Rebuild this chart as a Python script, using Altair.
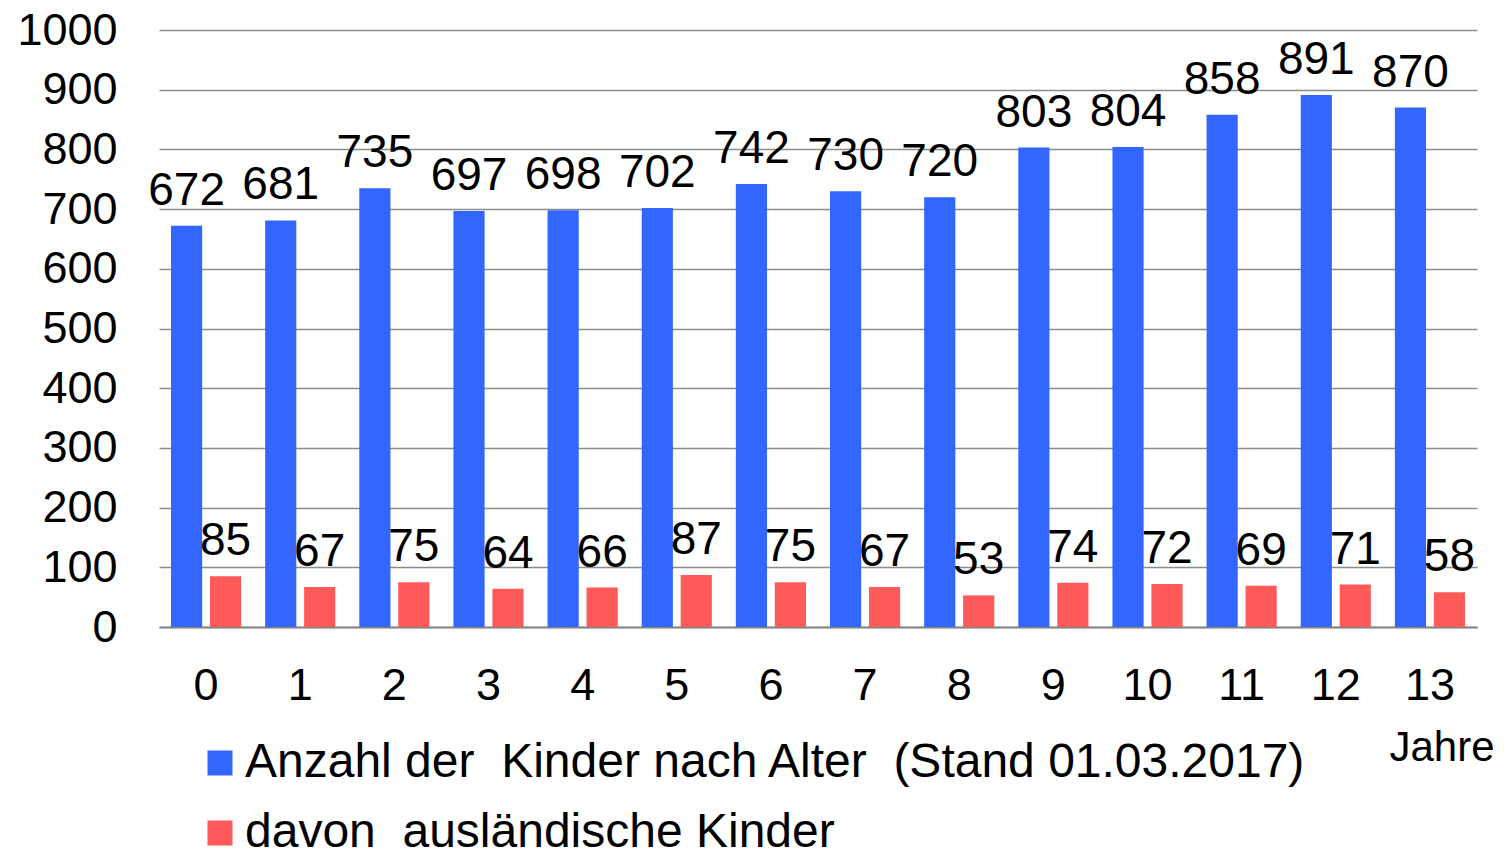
import altair as alt
import pandas as pd

ages = [str(i) for i in range(14)]
total = [672, 681, 735, 697, 698, 702, 742, 730, 720, 803, 804, 858, 891, 870]
foreign = [85, 67, 75, 64, 66, 87, 75, 67, 53, 74, 72, 69, 71, 58]
series = ["Anzahl der\u00a0 Kinder nach Alter\u00a0 (Stand 01.03.2017)",
          "davon\u00a0 ausländische Kinder"]
colors = ["#3366FF", "#FF5A5A"]
y_ticks = list(range(0, 1001, 100))
unit_label = ["Jahre"]

rows = []
for a, t, f in zip(ages, total, foreign):
    rows.append({"Alter": a, "Serie": series[0], "Wert": t})
    rows.append({"Alter": a, "Serie": series[1], "Wert": f})
df = pd.DataFrame(rows)

FONT = "Liberation Sans"

x = alt.X("Alter:N", sort=ages,
          scale=alt.Scale(paddingInner=0.255, paddingOuter=0.1275),
          axis=alt.Axis(title=None, labelAngle=0, labelFontSize=45, labelPadding=36,
                        ticks=False, domainColor="#888888", domainWidth=2,
                        labelColor="black", labelFont=FONT))
xoff = alt.XOffset("Serie:N", sort=series, scale=alt.Scale(paddingInner=0.2))
y = alt.Y("Wert:Q", scale=alt.Scale(domain=[0, 1000]),
          axis=alt.Axis(title=None, values=y_ticks, format="d", labelFontSize=45,
                        labelPadding=42, ticks=False, domain=False,
                        gridColor="#8c8c8c", gridWidth=1.5,
                        labelColor="black", labelFont=FONT))
color = alt.Color("Serie:N", sort=series,
                  scale=alt.Scale(domain=series, range=colors),
                  legend=alt.Legend(orient="none", legendX=37, legendY=709, title=None,
                                    symbolType="square", symbolSize=625,
                                    symbolStrokeWidth=0, labelFontSize=48, labelFont=FONT,
                                    labelColor="black", labelOffset=1, rowPadding=22,
                                    padding=0, labelLimit=3000, direction="vertical"))

base = alt.Chart(df)
bars = base.mark_bar().encode(x=x, xOffset=xoff, y=y, color=color)
labels = base.mark_text(dy=-21, baseline="alphabetic", fontSize=46, font=FONT,
                        color="black").encode(x=x, xOffset=xoff, y=y,
                                              text=alt.Text("Wert:Q"))
jahre = alt.Chart(pd.DataFrame({"t": unit_label})).mark_text(
    fontSize=42, font=FONT, align="center", baseline="middle", color="black"
).encode(x=alt.value(1283), y=alt.value(718), text="t:N")

chart = alt.layer(bars, labels, jahre).properties(
    width=1318, height=597,
    autosize=alt.AutoSizeParams(type="none"),
    padding={"left": 151, "top": 22, "right": 25, "bottom": 223},
).configure_view(stroke=None)

chart.save("out.html", embed_options={"renderer": "svg", "actions": False})
